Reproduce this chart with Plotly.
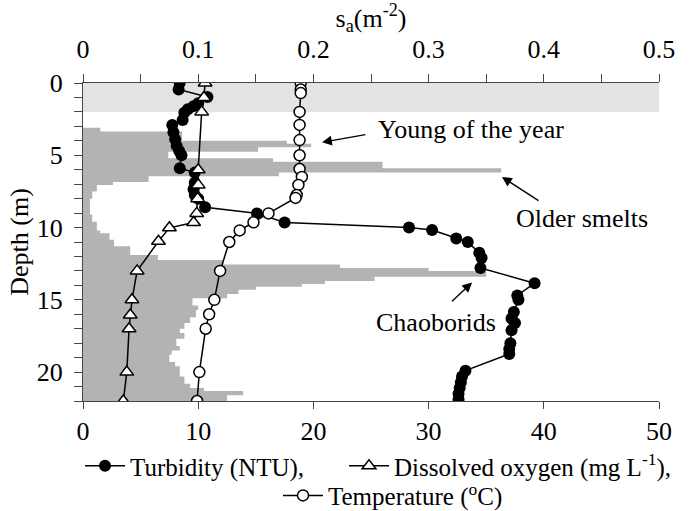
import plotly.graph_objects as go

# ---------------- data ----------------
sa_top = [3.1, 3.35, 4.0, 4.2, 4.45, 4.75, 5.2, 5.45, 5.9, 6.2, 6.45, 6.85, 7.05, 7.5, 8.0,
          9.1, 9.6, 10.2, 10.4, 10.85, 11.3, 11.9, 12.25, 12.55, 12.8, 13.0, 13.4, 13.7,
          13.9, 14.1, 14.3, 14.6, 14.9, 15.4, 15.7, 16.2, 16.6, 17.0, 17.3, 17.7, 18.2,
          18.5, 18.8, 19.3, 19.6, 20.3, 20.8, 21.1, 21.3, 21.6]
sa_bottom = sa_top[1:] + [22.0]
sa_value = [0.015, 0.086, 0.177, 0.198, 0.152, 0.074, 0.165, 0.26, 0.363, 0.17, 0.057,
            0.026, 0.012, 0.008, 0.006, 0.008, 0.012, 0.015, 0.023, 0.027, 0.041, 0.065,
            0.122, 0.223, 0.30, 0.35, 0.253, 0.21, 0.19, 0.15, 0.135, 0.125, 0.095, 0.1,
            0.098, 0.093, 0.088, 0.084, 0.088, 0.081, 0.084, 0.077, 0.075, 0.08, 0.084,
            0.088, 0.093, 0.105, 0.139, 0.125]

surf_top = [0.0]
surf_bottom = [2.0]
surf_value = [0.5]

turb_depth = [0.0, 0.45, 0.97, 1.4, 1.6, 1.82, 2.05, 2.56, 2.9, 3.4, 3.9, 4.35, 4.7, 5.0,
              5.9, 6.2, 6.9, 7.35, 7.75, 8.0, 8.6, 9.02, 9.65, 10.0, 10.17, 10.75, 11.0,
              11.75, 12.1, 12.8, 13.85, 14.7, 15.0, 15.85, 16.3, 16.6, 17.1, 18.0, 18.4,
              18.75, 19.9, 20.3, 20.7, 21.1, 21.5, 21.9]
turb_ntu = [8.4, 8.3, 10.8, 10.0, 9.6, 9.1, 8.8, 8.65, 7.75, 7.85, 8.0, 8.13, 8.35, 8.55,
            8.4, 9.7, 9.7, 9.6, 9.7, 10.0, 10.6, 15.1, 17.5, 28.3, 30.3, 32.4, 33.4,
            34.4, 34.6, 34.5, 39.2, 37.7, 37.8, 37.4, 37.2, 37.5, 37.2, 37.1, 37.0,
            37.0, 33.2, 32.9, 32.8, 32.7, 32.6, 32.6]

do_depth = [0.0, 1.0, 2.0, 6.0, 7.05, 8.0, 9.02, 9.65, 10.02, 10.95, 13.0, 15.0, 16.05,
            17.0, 20.0, 22.0]
do_mgl = [10.6, 10.5, 10.3, 10.0, 10.0, 9.95, 9.87, 9.6, 7.5, 6.55, 4.7, 4.25, 4.1,
          4.0, 3.8, 3.5]

temp_depth = [0.0, 0.45, 0.7, 2.0, 2.9, 3.95, 5.0, 5.95, 6.5, 7.05, 7.75, 7.95, 9.02,
              9.64, 10.2, 11.0, 13.0, 15.0, 16.0, 17.0, 20.0, 22.0]
temp_c = [18.9, 18.9, 18.9, 18.8, 18.8, 18.8, 18.8, 18.8, 19.0, 18.7, 18.55, 18.45, 16.1,
          14.8, 13.6, 12.7, 11.9, 11.4, 10.95, 10.65, 10.1, 9.9]

sa_ticks = [0, 0.1, 0.2, 0.3, 0.4, 0.5]
sa_ticktext = ["0", "0.1", "0.2", "0.3", "0.4", "0.5"]
env_ticks = [0, 10, 20, 30, 40, 50]
depth_ticks = [0, 5, 10, 15, 20]

FONT = "Times New Roman, Liberation Serif, serif"
TS = 26   # tick text size
LS = 25   # legend text size
AS = 26   # annotation / title text size


def step_profile(tops, bottoms, vals):
    xs, ys = [0], [tops[0]]
    for a, b, v in zip(tops, bottoms, vals):
        xs += [v, v]
        ys += [a, b]
    xs.append(0)
    ys.append(bottoms[-1])
    return xs, ys


fig = go.Figure()

sx, sy = step_profile(surf_top, surf_bottom, surf_value)
fig.add_trace(go.Scatter(x=sx, y=sy, mode="lines", fill="toself",
                         fillcolor="#e3e3e3", line=dict(width=0, color="#e3e3e3"),
                         xaxis="x", yaxis="y", showlegend=False, hoverinfo="skip"))
px_, py_ = step_profile(sa_top, sa_bottom, sa_value)
fig.add_trace(go.Scatter(x=px_, y=py_, mode="lines", fill="toself",
                         fillcolor="#b3b3b3", line=dict(width=0, color="#b3b3b3"),
                         xaxis="x", yaxis="y", showlegend=False, hoverinfo="skip"))

fig.add_trace(go.Scatter(x=turb_ntu, y=turb_depth, mode="lines+markers",
                         name="Turbidity (NTU),",
                         line=dict(color="black", width=1.5),
                         marker=dict(symbol="circle", size=12, color="black"),
                         xaxis="x2", yaxis="y", legend="legend"))
fig.add_trace(go.Scatter(x=do_mgl, y=do_depth, mode="lines+markers",
                         name="Dissolved oxygen (mg L<sup>-1</sup>),",
                         line=dict(color="black", width=1.5),
                         marker=dict(symbol="triangle-up", size=12, color="white",
                                     line=dict(color="black", width=1.5)),
                         xaxis="x2", yaxis="y", legend="legend2"))
fig.add_trace(go.Scatter(x=temp_c, y=temp_depth, mode="lines+markers",
                         name="Temperature (<sup>o</sup>C)",
                         line=dict(color="black", width=1.5),
                         marker=dict(symbol="circle", size=11, color="white",
                                     line=dict(color="black", width=1.5)),
                         xaxis="x2", yaxis="y", legend="legend3"))

ann_font = dict(family=FONT, size=AS, color="black")
fig.add_annotation(x=0.2075, y=4.1, ax=0.2465, ay=3.55, xref="x", yref="y",
                   axref="x", ayref="y", text="", showarrow=True, arrowhead=2,
                   arrowsize=1.4, arrowwidth=1.4, arrowcolor="black")
fig.add_annotation(x=0.254, y=3.25, xref="x", yref="y", text="Young of the year",
                   showarrow=False, xanchor="left", yanchor="middle", font=ann_font)
fig.add_annotation(x=0.3637, y=6.5, ax=0.3967, ay=8.2, xref="x", yref="y",
                   axref="x", ayref="y", text="", showarrow=True, arrowhead=2,
                   arrowsize=1.4, arrowwidth=1.4, arrowcolor="black")
fig.add_annotation(x=0.433, y=9.34, xref="x", yref="y", text="Older smelts",
                   showarrow=False, xanchor="center", yanchor="middle", font=ann_font)
fig.add_annotation(x=0.3377, y=13.8, ax=0.319, ay=15.2, xref="x", yref="y",
                   axref="x", ayref="y", text="", showarrow=True, arrowhead=2,
                   arrowsize=1.4, arrowwidth=1.4, arrowcolor="black")
fig.add_annotation(x=0.306, y=16.55, xref="x", yref="y", text="Chaoborids",
                   showarrow=False, xanchor="center", yanchor="middle", font=ann_font)

tick_font = dict(family=FONT, size=TS, color="black")
leg_common = dict(orientation="h", xref="container", yref="container",
                  xanchor="left", yanchor="middle", font=dict(family=FONT, size=LS),
                  itemwidth=40, bgcolor="rgba(0,0,0,0)", borderwidth=0)

fig.update_layout(
    width=697, height=511,
    margin=dict(l=83, r=38, t=83, b=110, autoexpand=False),
    paper_bgcolor="white", plot_bgcolor="white",
    font=dict(family=FONT, size=TS, color="black"),
    xaxis=dict(side="top", range=[0, 0.5], tickvals=sa_ticks, ticktext=sa_ticktext,
               ticks="outside", ticklen=8, tickcolor="#444", showline=True,
               linecolor="#444", linewidth=1.2, showgrid=False, zeroline=False,
               tickfont=tick_font, ticklabelstandoff=6,
               minor=dict(dtick=0.05, ticks="outside", ticklen=8, tickcolor="#444",
                          showgrid=False),
               title=dict(text="s<sub>a</sub>(m<sup>-2</sup>)",
                          font=dict(family=FONT, size=AS), standoff=4)),
    xaxis2=dict(overlaying="x", side="bottom", range=[0, 50], tickvals=env_ticks,
                ticks="outside", ticklen=7, tickcolor="#444", showline=True,
                linecolor="#444", linewidth=1.2, showgrid=False, zeroline=False,
                tickfont=tick_font, ticklabelstandoff=0),
    yaxis=dict(range=[22, 0], tickvals=depth_ticks, ticks="outside", ticklen=8,
               tickcolor="#444", showline=True, linecolor="#444", linewidth=1.2,
               showgrid=False, zeroline=False, tickfont=tick_font, ticklabelstandoff=6,
               minor=dict(dtick=1, ticks="outside", ticklen=8, tickcolor="#444",
                          showgrid=False),
               title=dict(text="Depth (m)", font=dict(family=FONT, size=AS), standoff=0)),
    legend=dict(x=80 / 697, y=0.088, **leg_common),
    legend2=dict(x=344 / 697, y=0.088, **leg_common),
    legend3=dict(x=278 / 697, y=0.030, **leg_common),
)

fig.write_html("out.html")
